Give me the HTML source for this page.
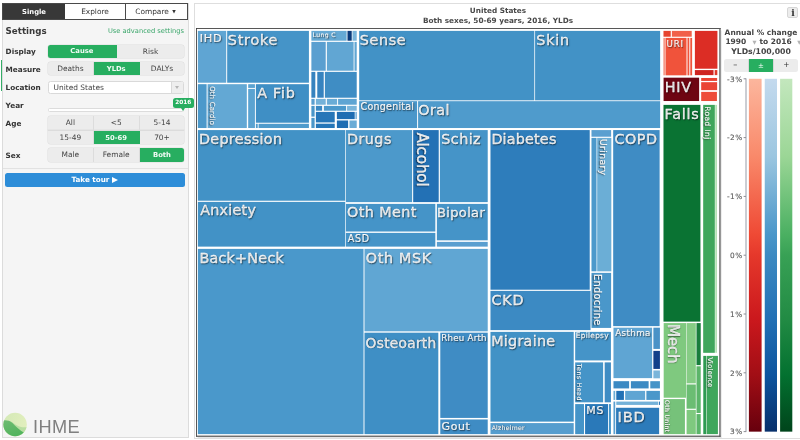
<!DOCTYPE html>
<html lang="en">
<head>
<meta charset="utf-8">
<title>GBD Compare</title>
<style>
html,body{margin:0;padding:0;}
html{width:800px;height:440px;overflow:hidden;}
body{width:800px;height:440px;overflow:hidden;background:#fff;position:relative;
 font-family:"DejaVu Sans","Liberation Sans",sans-serif;color:#333;}
div,span{box-sizing:border-box;}
.abs{position:absolute;}
#wrap{position:absolute;left:0;top:0;width:800px;height:440px;overflow:hidden;will-change:transform;}
/* ---------- left panel ---------- */
#side{position:absolute;left:2px;top:3px;width:186.5px;height:435px;background:#f5f5f5;border:1px solid #dcdcdc;}
#tabs{position:absolute;left:2px;top:3px;width:186px;height:16.5px;border:1px solid #4a4a4a;background:#fff;display:flex;}
#tabs div{height:100%;font-size:7.4px;line-height:16.2px;text-align:center;color:#333;}
#tabs .t1{width:62px;background:#383838;color:#fff;font-weight:bold;font-size:6.8px;}
#tabs .t2{width:61px;border-right:1px solid #4a4a4a;}
#tabs .t3{flex:1;}
.h1{position:absolute;left:5.6px;top:25.5px;font-size:8.7px;font-weight:bold;color:#3a3a3a;line-height:11px;}
.adv{position:absolute;right:616px;top:26.5px;font-size:6.7px;color:#3aa66a;line-height:9px;}
.lab{position:absolute;left:5.6px;font-size:7.3px;font-weight:bold;color:#333;line-height:10px;}
.bg{position:absolute;left:48px;width:136.4px;display:flex;border-radius:2.5px;overflow:hidden;background:#ececec;box-shadow:0 0 0 0.5px #dedede;}
.bg div{flex:1;text-align:center;font-size:7.45px;color:#444;border-right:1px solid #dcdcdc;}
.bg div:last-child{border-right:none;}
.bg .on{background:#27ae60;color:#f2fbf5;font-weight:bold;font-size:6.8px;border-right-color:#27ae60;}
#loc{position:absolute;left:48px;top:80.6px;width:136.4px;height:13.2px;background:#fff;border:1px solid #d9d9d9;border-radius:2.5px;font-size:7.45px;line-height:11.2px;color:#444;padding-left:4.5px;}
#loc i{position:absolute;right:0;top:0;width:11.5px;height:11.2px;background:#eee;border-left:1px solid #d9d9d9;}
#loc i:after{content:"";position:absolute;left:3px;top:4.6px;border:2.4px solid transparent;border-top:3px solid #b5b5b5;}
#trk{position:absolute;left:48px;top:108.4px;width:136.4px;height:3.4px;background:#fff;border:1px solid #dcdcdc;border-radius:1.5px;}
#yr{position:absolute;left:172.8px;top:98.2px;width:21px;height:9.6px;background:#27ae60;border-radius:2.5px;color:#fff;font-size:5.8px;font-weight:bold;line-height:9.6px;text-align:center;}
#yr:after{content:"";position:absolute;left:8.4px;top:9.4px;border:2.4px solid transparent;border-top:3.4px solid #27ae60;}
#sep{position:absolute;left:3px;top:167.6px;width:185px;height:1px;background:#e2e2e2;}
#tour{position:absolute;left:5px;top:173.4px;width:180px;height:13.6px;background:#2d8dd8;border-radius:2.5px;color:#fff;font-size:7.2px;font-weight:bold;text-align:center;line-height:13.4px;}
.tri{display:inline-block;width:0;height:0;border-left:6.2px solid #fff;border-top:3.4px solid transparent;border-bottom:3.4px solid transparent;vertical-align:-0.6px;margin-left:0.6px;}
#gl{position:absolute;left:0.6px;top:60px;width:1.6px;height:31px;background:#35ad68;}
/* ---------- main ---------- */
#main{position:absolute;left:194px;top:3px;width:606px;height:436px;border:1px solid #dedede;border-right:none;background:#fff;}
.ttl{position:absolute;left:196px;width:604px;text-align:center;font-size:7.3px;font-weight:bold;color:#494949;line-height:10px;}
#tmsvg,#lgsvg{position:absolute;left:0;top:0;}
#lgsvg text{font-family:"DejaVu Sans","Liberation Sans",sans-serif;}
.lbs text{font-family:"DejaVu Sans","Liberation Sans",sans-serif;fill:#fff;stroke:#fff;text-shadow:0.7px 0.9px 1.3px rgba(0,0,0,.52);}
/* ---------- legend ---------- */
.lt{position:absolute;left:722px;width:78px;text-align:center;font-size:7.5px;font-weight:bold;color:#444;line-height:10px;white-space:nowrap;}
.lt i{font-style:normal;color:#b4b4b4;font-size:5.2px;position:relative;top:0.4px;}
#pm{position:absolute;left:723.6px;top:58.6px;width:74.9px;height:13.3px;display:flex;border-radius:2.5px;overflow:hidden;background:#ececec;}
#pm div{flex:1;text-align:center;font-size:7.4px;line-height:12.6px;color:#333;border-right:1px solid #d8d8d8;}
#pm div:last-child{border-right:none;}
#pm .on{background:#27ae60;color:#fff;font-weight:bold;}
#info{position:absolute;left:787.4px;top:7.4px;width:11px;height:11px;background:#ececec;border:1px solid #d6d6d6;border-radius:2px;font-size:9.2px;font-weight:bold;text-align:center;line-height:9.2px;color:#333;font-family:"DejaVu Serif","Liberation Serif",serif;}
</style>
</head>
<body>
<div id="wrap">
<div id="side"></div>
<div id="gl"></div>
<div id="tabs"><div class="t1">Single</div><div class="t2">Explore</div><div class="t3" style="padding-right:3px">Compare <span style="font-size:4.6px;position:relative;top:-0.6px;left:1px">&#9660;</span></div></div>
<div class="h1">Settings</div>
<div class="adv">Use advanced settings</div>

<div class="lab" style="top:46.7px">Display</div>
<div class="bg" style="top:44.5px;height:13px;line-height:13.9px"><div class="on">Cause</div><div>Risk</div></div>

<div class="lab" style="top:64.8px">Measure</div>
<div class="bg" style="top:62.3px;height:13.2px;line-height:14.2px"><div>Deaths</div><div class="on">YLDs</div><div>DALYs</div></div>

<div class="lab" style="top:82.9px">Location</div>
<div id="loc">United States<i></i></div>

<div class="lab" style="top:101px">Year</div>
<div id="trk"></div>
<div id="yr">2016</div>

<div class="lab" style="top:118.9px">Age</div>
<div class="bg" style="top:116.4px;height:13.6px;line-height:14.4px;border-radius:2.5px 2.5px 0 0"><div>All</div><div>&lt;5</div><div>5-14</div></div>
<div class="bg" style="top:130px;height:14.4px;line-height:14.6px;border-radius:0 0 2.5px 2.5px;border-top:1px solid #dcdcdc"><div>15-49</div><div class="on">50-69</div><div>70+</div></div>

<div class="lab" style="top:150.7px">Sex</div>
<div class="bg" style="top:148.2px;height:13.8px;line-height:14.6px"><div>Male</div><div>Female</div><div class="on">Both</div></div>

<div id="sep"></div>
<div id="tour">Take tour <span class="tri"></span></div>

<!-- IHME logo -->
<svg class="abs" style="left:2px;top:411px" width="90" height="28" viewBox="0 0 90 28">
 <defs>
  <clipPath id="lc"><circle cx="13.1" cy="13.5" r="11.7"/></clipPath>
  <linearGradient id="lg1" x1="0" y1="0" x2="1" y2="0.3"><stop offset="0" stop-color="#d3e9b6"/><stop offset="1" stop-color="#e1eebd"/></linearGradient>
  <linearGradient id="lg2" x1="0" y1="0" x2="0.4" y2="1"><stop offset="0" stop-color="#6fbb72"/><stop offset="1" stop-color="#4fb35c"/></linearGradient>
 </defs>
 <circle cx="13.1" cy="13.5" r="11.7" fill="url(#lg1)"/>
 <g clip-path="url(#lc)">
  <path d="M9 10.5 C13 13 17 17.5 26 16 L26 28 L0 28 L0 10 Z" fill="#b9dea2"/>
  <path d="M0 9.6 C3.5 9 7.5 9.2 10.5 12 C13.5 15 17 19 23 22.2 L23 28 L0 28 Z" fill="url(#lg2)"/>
 </g>
 <text x="31" y="21.9" font-family="Liberation Sans, sans-serif" font-size="18.2" letter-spacing="0.35" fill="#808080">IHME</text>
</svg>

<div id="main"></div>
<div class="ttl" style="top:6.3px">United States</div>
<div class="ttl" style="top:15.6px">Both sexes, 50-69 years, 2016, YLDs</div>
<div id="info">i</div>

<svg id="tmsvg" width="800" height="440" viewBox="0 0 800 440">
<rect x="196" y="28" width="524.6" height="408.8" fill="#fff"/><path d="M721.1 30.4V437.3H197.6" fill="none" stroke="#000" stroke-opacity="0.10" stroke-width="1.2"/><rect x="196" y="28" width="0.9" height="408.8" fill="#444"/><rect x="196" y="28" width="524.6" height="0.85" fill="#3a3a3a"/><rect x="719.3" y="28" width="1.3" height="408.8" fill="#5a5a5a"/><rect x="196" y="435.6" width="524.6" height="1.25" fill="#5a5a5a"/>
<g>
<rect x="197.88" y="30.88" width="28.34" height="51.84" fill="#5fa5d3"/>
<rect x="227.18" y="30.88" width="81.74" height="51.84" fill="#4594c8"/>
<rect x="197.88" y="84.18" width="8.74" height="43.84" fill="#4c99cb"/>
<rect x="207.58" y="84.18" width="39.24" height="43.84" fill="#63a8d4"/>
<rect x="248.18" y="84.18" width="6.74" height="3.74" fill="#5ba3d1"/>
<rect x="248.18" y="88.88" width="6.74" height="39.14" fill="#5ba3d1"/>
<rect x="255.88" y="84.18" width="53.04" height="38.54" fill="#3f8fc5"/>
<rect x="255.88" y="123.78" width="1.84" height="4.24" fill="#4f9bcc"/>
<rect x="258.58" y="123.78" width="50.34" height="4.24" fill="#4f9bcc"/>
<rect x="311.38" y="30.88" width="35.24" height="9.84" fill="#65a9d4"/>
<rect x="347.48" y="30.88" width="4.24" height="9.84" fill="#0a3a7a"/>
<rect x="352.48" y="30.88" width="4.24" height="9.84" fill="#7ab5da"/>
<rect x="311.38" y="41.88" width="14.34" height="28.84" fill="#5a9fd0"/>
<rect x="326.88" y="41.88" width="26.74" height="28.84" fill="#61a6d3"/>
<rect x="354.48" y="41.88" width="2.24" height="28.84" fill="#61a6d3"/>
<rect x="311.38" y="71.88" width="3.94" height="25.84" fill="#3683bf"/>
<rect x="317.28" y="71.88" width="6.44" height="25.84" fill="#3683bf"/>
<rect x="324.88" y="71.88" width="31.84" height="25.84" fill="#3f8dc4"/>
<rect x="311.38" y="98.88" width="3.24" height="5.84" fill="#5a9fd0"/>
<rect x="311.38" y="105.88" width="3.24" height="10.74" fill="#4a96c9"/>
<rect x="311.38" y="117.88" width="3.24" height="10.14" fill="#4a96c9"/>
<rect x="315.88" y="98.88" width="9.84" height="5.84" fill="#74b2d9"/>
<rect x="326.88" y="98.88" width="10.24" height="5.84" fill="#6aacd6"/>
<rect x="338.08" y="98.88" width="18.64" height="5.84" fill="#5fa5d3"/>
<rect x="315.88" y="105.88" width="6.24" height="4.84" fill="#3a88c2"/>
<rect x="323.88" y="105.88" width="22.24" height="4.84" fill="#4c99cb"/>
<rect x="347.08" y="105.88" width="9.64" height="4.84" fill="#7ab5da"/>
<rect x="315.88" y="111.88" width="18.84" height="10.54" fill="#2676b8"/>
<rect x="336.88" y="111.88" width="17.84" height="7.24" fill="#1f6db2"/>
<rect x="355.48" y="111.88" width="1.24" height="7.24" fill="#5a9fd0"/>
<rect x="315.88" y="123.68" width="18.84" height="4.34" fill="#2676b8"/>
<rect x="336.88" y="120.48" width="11.24" height="7.54" fill="#1f6db2"/>
<rect x="349.48" y="120.48" width="7.24" height="7.54" fill="#6aacd6"/>
<rect x="359.18" y="30.88" width="175.14" height="69.44" fill="#4292c6"/>
<rect x="535.08" y="30.88" width="125.04" height="69.44" fill="#4292c6"/>
<rect x="359.18" y="101.18" width="57.94" height="26.84" fill="#4a97ca"/>
<rect x="418.08" y="101.18" width="242.04" height="26.84" fill="#4f9bcc"/>
<rect x="197.88" y="130.08" width="147.34" height="70.64" fill="#4292c6"/>
<rect x="197.88" y="201.88" width="147.34" height="44.74" fill="#4292c6"/>
<rect x="345.88" y="130.08" width="66.24" height="72.04" fill="#4c99cb"/>
<rect x="413.18" y="130.08" width="25.54" height="72.04" fill="#2371b5"/>
<rect x="439.88" y="130.08" width="47.84" height="72.04" fill="#4594c8"/>
<rect x="345.88" y="203.88" width="89.44" height="27.64" fill="#4594c8"/>
<rect x="436.88" y="203.88" width="50.84" height="36.44" fill="#4594c8"/>
<rect x="436.88" y="241.88" width="50.84" height="4.74" fill="#5a9fd0"/>
<rect x="345.88" y="232.88" width="89.44" height="13.74" fill="#4594c8"/>
<rect x="197.88" y="248.88" width="165.64" height="185.24" fill="#4a98cb"/>
<rect x="364.48" y="248.88" width="123.24" height="82.44" fill="#60a6d3"/>
<rect x="364.48" y="332.68" width="73.84" height="101.44" fill="#3f8fc5"/>
<rect x="440.28" y="332.68" width="47.44" height="85.24" fill="#3f8cc4"/>
<rect x="440.28" y="419.48" width="47.44" height="14.64" fill="#3f8cc4"/>
<rect x="490.48" y="130.08" width="99.24" height="159.64" fill="#2e7dbb"/>
<rect x="490.48" y="290.88" width="100.04" height="39.24" fill="#3c8ac3"/>
<rect x="591.48" y="130.08" width="19.64" height="6.64" fill="#5a9fd0"/>
<rect x="591.48" y="137.88" width="5.04" height="133.44" fill="#4c99cb"/>
<rect x="597.18" y="137.88" width="14.14" height="133.44" fill="#6baed6"/>
<rect x="591.48" y="272.88" width="19.64" height="55.04" fill="#4a97ca"/>
<rect x="613.18" y="130.08" width="46.44" height="196.04" fill="#3f8cc4"/>
<rect x="613.48" y="327.68" width="38.64" height="50.44" fill="#5fa5d3"/>
<rect x="653.38" y="327.68" width="6.54" height="21.24" fill="#4a92c7"/>
<rect x="653.38" y="350.88" width="6.54" height="18.04" fill="#12408a"/>
<rect x="653.38" y="370.48" width="6.54" height="7.84" fill="#7ab5da"/>
<rect x="490.48" y="331.88" width="83.24" height="89.74" fill="#4292c6"/>
<rect x="490.48" y="423.08" width="83.24" height="11.04" fill="#559dce"/>
<rect x="575.18" y="331.88" width="35.74" height="28.54" fill="#4594c8"/>
<rect x="575.18" y="362.38" width="27.94" height="39.94" fill="#4594c8"/>
<rect x="604.68" y="362.38" width="6.24" height="39.94" fill="#3f8cc4"/>
<rect x="575.18" y="404.08" width="8.84" height="30.04" fill="#4594c8"/>
<rect x="585.08" y="404.08" width="22.94" height="30.04" fill="#2a79b9"/>
<rect x="608.88" y="404.08" width="2.04" height="30.04" fill="#4594c8"/>
<rect x="613.48" y="381.18" width="15.64" height="7.24" fill="#3c8ac3"/>
<rect x="630.88" y="381.18" width="17.74" height="7.24" fill="#3c8ac3"/>
<rect x="650.28" y="381.18" width="9.64" height="7.24" fill="#4594c8"/>
<rect x="613.48" y="390.88" width="1.74" height="9.04" fill="#6baed6"/>
<rect x="616.28" y="390.88" width="7.64" height="9.04" fill="#2171b5"/>
<rect x="625.18" y="390.88" width="19.94" height="9.04" fill="#5fa5d3"/>
<rect x="646.38" y="390.88" width="13.54" height="9.04" fill="#4a97ca"/>
<rect x="616.28" y="401.58" width="41.84" height="3.34" fill="#74b2d9"/>
<rect x="658.88" y="401.58" width="1.04" height="3.34" fill="#2171b5"/>
<rect x="613.48" y="401.58" width="1.74" height="32.54" fill="#5a9fd0"/>
<rect x="616.08" y="407.78" width="43.04" height="26.34" fill="#2d7bba"/>
<rect x="663.48" y="30.88" width="7.24" height="5.84" fill="#e6442f"/>
<rect x="671.88" y="30.88" width="19.84" height="5.84" fill="#f1604a"/>
<rect x="663.58" y="37.88" width="1.04" height="37.44" fill="#f05d43"/>
<rect x="665.48" y="37.88" width="21.04" height="37.44" fill="#f0533b"/>
<rect x="687.48" y="37.88" width="1.84" height="37.44" fill="#f0533b"/>
<rect x="690.28" y="37.88" width="1.84" height="37.44" fill="#f0533b"/>
<rect x="694.88" y="30.88" width="22.54" height="37.84" fill="#dc2d25"/>
<rect x="694.88" y="70.08" width="18.64" height="5.04" fill="#cf2420"/>
<rect x="714.68" y="70.08" width="2.64" height="5.04" fill="#e03a2a"/>
<rect x="663.58" y="77.68" width="35.54" height="23.34" fill="#6e0512"/>
<rect x="701.18" y="77.98" width="15.94" height="2.94" fill="#ea4232"/>
<rect x="701.18" y="82.18" width="15.94" height="7.94" fill="#ea4535"/>
<rect x="701.18" y="91.88" width="15.74" height="9.14" fill="#ee4c3a"/>
<rect x="663.48" y="104.88" width="36.94" height="216.74" fill="#0a7333"/>
<rect x="703.18" y="104.88" width="11.64" height="247.94" fill="#3fa65c"/>
<rect x="715.38" y="104.88" width="1.44" height="247.94" fill="#a5dba6"/>
<rect x="703.28" y="355.88" width="2.94" height="78.24" fill="#2f9a52"/>
<rect x="706.68" y="355.88" width="11.24" height="78.24" fill="#3fa65c"/>
<rect x="663.68" y="323.08" width="22.44" height="74.64" fill="#7fc97f"/>
<rect x="663.68" y="399.08" width="21.24" height="35.04" fill="#76c27a"/>
<rect x="686.58" y="323.08" width="9.24" height="60.24" fill="#86cc85"/>
<rect x="686.58" y="384.48" width="9.24" height="24.24" fill="#6bbd73"/>
<rect x="686.58" y="409.88" width="9.24" height="24.24" fill="#7fc97f"/>
<rect x="696.48" y="323.08" width="4.24" height="42.04" fill="#187d3c"/>
<rect x="696.48" y="366.28" width="4.24" height="46.74" fill="#5cb56a"/>
<rect x="696.48" y="414.08" width="4.24" height="20.04" fill="#5cb56a"/>
</g>
<g class="lbs">
<text x="199.79" y="42.20" font-size="11.3" stroke-width="0.24" letter-spacing="0.75">IHD</text>
<text x="227.85" y="44.90" font-size="14.4" stroke-width="0.30" letter-spacing="0.75">Stroke</text>
<text transform="translate(210.20,86.16) rotate(90)" font-size="6.9" stroke-width="0.14" letter-spacing="0.20">Oth Cardio</text>
<text x="257.16" y="97.70" font-size="14.4" stroke-width="0.30" letter-spacing="0.75">A Fib</text>
<text x="312.70" y="37.20" font-size="6.1" stroke-width="0.13" letter-spacing="0.34">Lung C</text>
<text x="359.85" y="44.70" font-size="14.4" stroke-width="0.30" letter-spacing="0.58">Sense</text>
<text x="536.35" y="44.70" font-size="14.4" stroke-width="0.30" letter-spacing="0.75">Skin</text>
<text x="360.51" y="109.70" font-size="9.6" stroke-width="0.20" letter-spacing="0.20">Congenital</text>
<text x="418.24" y="114.70" font-size="14.4" stroke-width="0.30" letter-spacing="0.41">Oral</text>
<text x="198.89" y="143.95" font-size="14.4" stroke-width="0.30" letter-spacing="0.31">Depression</text>
<text x="200.16" y="215.20" font-size="14.4" stroke-width="0.30" letter-spacing="0.21">Anxiety</text>
<text x="346.89" y="144.20" font-size="14.4" stroke-width="0.30" letter-spacing="0.44">Drugs</text>
<text transform="translate(416.70,132.40) rotate(90)" font-size="15.3" stroke-width="0.32" letter-spacing="-0.25">Alcohol</text>
<text x="441.35" y="144.20" font-size="14.4" stroke-width="0.30" letter-spacing="0.39">Schiz</text>
<text x="346.99" y="217.20" font-size="14.4" stroke-width="0.30" letter-spacing="0.40">Oth Ment</text>
<text x="437.02" y="216.70" font-size="13.1" stroke-width="0.28" letter-spacing="0.30">Bipolar</text>
<text x="347.70" y="241.70" font-size="9.6" stroke-width="0.20" letter-spacing="0.75">ASD</text>
<text x="199.39" y="262.70" font-size="14.4" stroke-width="0.30" letter-spacing="0.20">Back+Neck</text>
<text x="365.74" y="262.70" font-size="14.4" stroke-width="0.30" letter-spacing="0.64">Oth MSK</text>
<text x="365.62" y="347.50" font-size="13.85" stroke-width="0.29" letter-spacing="0.22">Osteoarth</text>
<text x="441.35" y="341.10" font-size="8.7" stroke-width="0.18" letter-spacing="0.21">Rheu Arth</text>
<text x="441.58" y="430.30" font-size="11" stroke-width="0.23" letter-spacing="0.59">Gout</text>
<text x="491.39" y="144.20" font-size="14.4" stroke-width="0.30" letter-spacing="0.16">Diabetes</text>
<text x="491.49" y="304.70" font-size="14.4" stroke-width="0.30" letter-spacing="0.75">CKD</text>
<text transform="translate(599.50,138.89) rotate(90)" font-size="9.3" stroke-width="0.20" letter-spacing="0.36">Urinary</text>
<text transform="translate(594.00,274.04) rotate(90)" font-size="9.8" stroke-width="0.21" letter-spacing="0.29">Endocrine</text>
<text x="614.49" y="144.20" font-size="14.4" stroke-width="0.30" letter-spacing="0.46">COPD</text>
<text x="615.21" y="336.00" font-size="8.8" stroke-width="0.18" letter-spacing="0.34">Asthma</text>
<text x="491.19" y="346.10" font-size="14.4" stroke-width="0.30" letter-spacing="0.24">Migraine</text>
<text x="491.64" y="429.50" font-size="6.2" stroke-width="0.13" letter-spacing="0.23">Alzheimer</text>
<text x="575.82" y="338.20" font-size="7.4" stroke-width="0.16" letter-spacing="0.26">Epilepsy</text>
<text transform="translate(576.80,363.80) rotate(90)" font-size="6.3" stroke-width="0.13" letter-spacing="0.54">Tens Head</text>
<text x="586.22" y="414.20" font-size="11" stroke-width="0.23" letter-spacing="0.75">MS</text>
<text x="617.56" y="421.90" font-size="14.7" stroke-width="0.31" letter-spacing="0.75">IBD</text>
<text x="666.54" y="46.70" font-size="8.7" stroke-width="0.18" letter-spacing="0.75">URI</text>
<text x="664.69" y="91.70" font-size="14.4" stroke-width="0.30" letter-spacing="0.75">HIV</text>
<text x="664.59" y="118.90" font-size="14.4" stroke-width="0.30" letter-spacing="0.75">Falls</text>
<text transform="translate(705.20,106.16) rotate(90)" font-size="7.5" stroke-width="0.16" letter-spacing="0.40">Road Inj</text>
<text transform="translate(707.70,357.44) rotate(90)" font-size="6.5" stroke-width="0.14" letter-spacing="0.33">Violence</text>
<text transform="translate(668.40,324.23) rotate(90)" font-size="15" stroke-width="0.32" letter-spacing="-0.25">Mech</text>
<text transform="translate(665.40,400.05) rotate(90)" font-size="6.2" stroke-width="0.13" letter-spacing="0.29">Oth Unint</text>
</g>
</svg>

<!-- legend -->
<div class="lt" style="top:27.7px">Annual % change</div>
<div class="lt" style="top:36.6px;left:725.4px;width:74.6px;overflow:hidden;text-align:left">1990<i style="margin-left:6.2px;margin-right:3px">&#9660;</i>to 2016<i style="margin-left:5.6px">&#9660;</i></div>
<div class="lt" style="top:46.7px;font-size:7.75px">YLDs/100,000</div>
<div id="pm"><div style="flex:none;width:25.4px"><span style="display:inline-block;transform:scaleX(1.7)">-</span></div><div class="on" style="flex:none;width:25px;font-weight:normal;font-size:7px;line-height:14px">&#177;</div><div>+</div></div>
<svg id="lgsvg" width="800" height="440" viewBox="0 0 800 440">
<defs>
<linearGradient id="gr" x1="0" y1="0" x2="0" y2="1"><stop offset="0%" stop-color="#fcb69d"/><stop offset="22%" stop-color="#f9896a"/><stop offset="44%" stop-color="#ef4a35"/><stop offset="50%" stop-color="#e5382b"/><stop offset="68%" stop-color="#cb181d"/><stop offset="84%" stop-color="#a10e15"/><stop offset="100%" stop-color="#67000d"/></linearGradient>
<linearGradient id="gb" x1="0" y1="0" x2="0" y2="1"><stop offset="0%" stop-color="#c4daee"/><stop offset="22%" stop-color="#9bc6e0"/><stop offset="44%" stop-color="#4b97ca"/><stop offset="50%" stop-color="#3d8ac2"/><stop offset="68%" stop-color="#2270b5"/><stop offset="84%" stop-color="#0d549f"/><stop offset="100%" stop-color="#08306b"/></linearGradient>
<linearGradient id="gg" x1="0" y1="0" x2="0" y2="1"><stop offset="0%" stop-color="#c3e7bd"/><stop offset="22%" stop-color="#9bd696"/><stop offset="44%" stop-color="#4bb062"/><stop offset="50%" stop-color="#38a155"/><stop offset="68%" stop-color="#228b44"/><stop offset="84%" stop-color="#037130"/><stop offset="100%" stop-color="#00441b"/></linearGradient>
</defs>
<rect x="748.9" y="78.8" width="12.70" height="352.85" fill="url(#gr)"/>
<rect x="764.75" y="78.8" width="12.25" height="352.85" fill="url(#gb)"/>
<rect x="780.1" y="78.8" width="12.20" height="352.85" fill="url(#gg)"/>
<rect x="745.4" y="78.39999999999999" width="1.2" height="353.65" fill="#a9adb6"/>
<rect x="743.6" y="78.30" width="2.4" height="1" fill="#8f8f96"/>
<text x="742.6" y="81.55" text-anchor="end" font-size="7.4" letter-spacing="0.4" fill="#5c5c5c" stroke="#5c5c5c" stroke-width="0.12">-3%</text>
<rect x="743.6" y="137.10" width="2.4" height="1" fill="#8f8f96"/>
<text x="742.6" y="140.35" text-anchor="end" font-size="7.4" letter-spacing="0.4" fill="#5c5c5c" stroke="#5c5c5c" stroke-width="0.12">-2%</text>
<rect x="743.6" y="195.90" width="2.4" height="1" fill="#8f8f96"/>
<text x="742.6" y="199.15" text-anchor="end" font-size="7.4" letter-spacing="0.4" fill="#5c5c5c" stroke="#5c5c5c" stroke-width="0.12">-1%</text>
<rect x="743.6" y="254.70" width="2.4" height="1" fill="#8f8f96"/>
<text x="742.6" y="257.95" text-anchor="end" font-size="7.4" letter-spacing="0.4" fill="#5c5c5c" stroke="#5c5c5c" stroke-width="0.12">0%</text>
<rect x="743.6" y="313.50" width="2.4" height="1" fill="#8f8f96"/>
<text x="742.6" y="316.75" text-anchor="end" font-size="7.4" letter-spacing="0.4" fill="#5c5c5c" stroke="#5c5c5c" stroke-width="0.12">1%</text>
<rect x="743.6" y="372.30" width="2.4" height="1" fill="#8f8f96"/>
<text x="742.6" y="375.55" text-anchor="end" font-size="7.4" letter-spacing="0.4" fill="#5c5c5c" stroke="#5c5c5c" stroke-width="0.12">2%</text>
<rect x="743.6" y="431.10" width="2.4" height="1" fill="#8f8f96"/>
<text x="742.6" y="434.35" text-anchor="end" font-size="7.4" letter-spacing="0.4" fill="#5c5c5c" stroke="#5c5c5c" stroke-width="0.12">3%</text>
</svg>
</div>
</body>
</html>
